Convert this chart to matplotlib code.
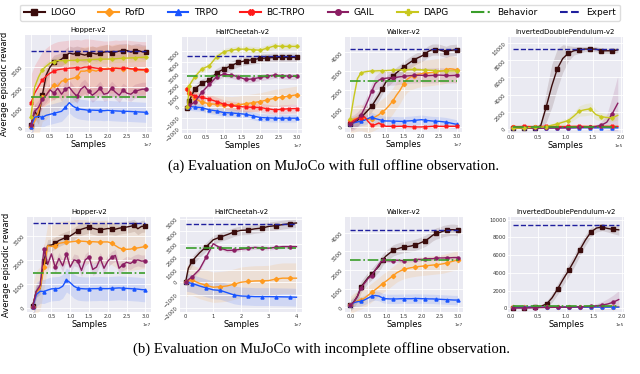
import numpy as np
import matplotlib
matplotlib.use("Agg")
import matplotlib.pyplot as plt
from matplotlib.lines import Line2D

plt.rcParams.update({
    "font.family": "DejaVu Sans",
    "axes.facecolor": "#EAEAF2",
    "axes.edgecolor": "white",
    "axes.grid": True,
    "grid.color": "white",
    "grid.linewidth": 0.6,
    "xtick.major.size": 0,
    "ytick.major.size": 0,
    "xtick.major.pad": 1.5,
    "ytick.major.pad": 1.0,
    "xtick.color": "#333333",
    "ytick.color": "#333333",
})

names = ["LOGO", "PofD", "TRPO", "BC-TRPO", "GAIL", "DAPG"]
colors = {"LOGO": "#3a0c0c", "PofD": "#ff9a1f", "TRPO": "#1a55ff",
          "BC-TRPO": "#ff1a1a", "GAIL": "#8b1e63", "DAPG": "#c8c81e"}
markers = {"LOGO": "s", "PofD": "D", "TRPO": "^", "BC-TRPO": "X",
           "GAIL": "o", "DAPG": "P"}
behavior_color = "#3a9e2a"
expert_color = "#1f1f9e"

# ---------------- (a) full offline observation ----------------
# Hopper-v2 (x in 1e7 samples)
hop_a_x = [0, .1, .2, .3, .4, .5, .6, .7, .8, .9, 1.0, 1.1, 1.2, 1.3, 1.4, 1.5,
           1.6, 1.7, 1.8, 1.9, 2.0, 2.1, 2.2, 2.3, 2.4, 2.5, 2.6, 2.7, 2.8, 2.9, 3.0]
hop_a = {
    "LOGO": [100, 800, 500, 1600, 2600, 3000, 3250, 3300, 3400, 3550, 3700, 3650, 3700, 3650, 3600, 3650,
             3700, 3650, 3700, 3750, 3780, 3700, 3750, 3800, 3820, 3830, 3750, 3800, 3820, 3760, 3750],
    "PofD": [0, 300, 800, 1500, 1600, 1900, 2100, 2050, 2300, 2350, 2400, 2450, 2500, 2800, 2800, 2850,
             2850, 2800, 2900, 2900, 2950, 2900, 2950, 2950, 2900, 2950, 2900, 2900, 2850, 2850, 2850],
    "TRPO": [0, 500, 550, 500, 600, 650, 700, 750, 800, 1000, 1230, 1050, 950, 900, 880, 850,
             860, 850, 850, 830, 850, 830, 820, 810, 800, 800, 790, 780, 770, 760, 750],
    "BC-TRPO": [1200, 1700, 2030, 2370, 2550, 2700, 2800, 2870, 2900, 2920, 2950, 2960, 2980, 2950, 3000, 3000,
                2980, 2950, 2930, 2900, 2900, 2920, 2950, 2930, 2950, 2950, 2920, 2900, 2880, 2870, 2870],
    "GAIL": [100, 800, 1000, 1400, 1600, 1870, 1700, 1950, 1650, 1900, 2000, 1750, 1550, 1900, 2050, 1800,
             1600, 1750, 1950, 1650, 1700, 1950, 1750, 1600, 1850, 1700, 1650, 1800, 1850, 1900, 1900],
    "DAPG": [500, 2000, 2500, 2870, 3050, 3200, 3280, 3330, 3320, 3330, 3330, 3340, 3350, 3350, 3360, 3370,
             3380, 3390, 3400, 3400, 3400, 3410, 3420, 3430, 3440, 3450, 3460, 3470, 3480, 3490, 3500],
}
hop_a_sd = {"LOGO": 350, "PofD": 1200, "TRPO": 500, "BC-TRPO": 1400, "GAIL": 350, "DAPG": 200}

# HalfCheetah-v2
hc_a_x = [0, 0.05, 0.2, 0.4, 0.6, 0.8, 1.0, 1.2, 1.4, 1.6, 1.8, 2.0, 2.2, 2.4, 2.6, 2.8, 3.0]
hc_a = {
    "LOGO": [-100, 500, 1600, 2100, 2400, 3050, 3400, 3700, 4000, 4150, 4250, 4360, 4400, 4450, 4450, 4450, 4450],
    "PofD": [1580, 1200, 700, 400, 250, 200, 150, 100, 150, 250, 350, 450, 600, 760, 850, 950, 1060],
    "TRPO": [0, 0, -50, -100, -300, -400, -550, -580, -640, -700, -850, -1000, -1030, -1060, -1060, -1060, -1060],
    "BC-TRPO": [1580, 1200, 950, 820, 670, 450, 210, 100, 0, -50, -70, -90, -200, -300, -250, -200, -180],
    "GAIL": [0, 100, 400, 1300, 2000, 2700, 2940, 2850, 2700, 2450, 2500, 2640, 2750, 2850, 2800, 2750, 2730],
    "DAPG": [0, 1900, 2700, 3400, 3700, 4500, 4970, 5100, 5200, 5200, 5150, 5100, 5300, 5500, 5450, 5450, 5450],
}
hc_a_sd = {"LOGO": 400, "PofD": 800, "TRPO": 350, "BC-TRPO": 400, "GAIL": 300, "DAPG": 300}

# Walker-v2
wk_a_x = hop_a_x
wk_a = {
    "LOGO": [180, 250, 350, 540, 700, 900, 1100, 1400, 1700, 2050, 2400, 2550, 2710, 2900, 3050, 3200,
             3350, 3480, 3600, 3700, 3790, 3900, 4050, 4140, 4150, 4140, 4080, 4020, 4100, 4120, 4140],
    "PofD": [360, 420, 480, 500, 450, 390, 450, 540, 650, 800, 950, 1160, 1400, 1700, 1960, 2300,
             2550, 2680, 2750, 2820, 2850, 2880, 2900, 2920, 2950, 2970, 3000, 3050, 3120, 3100, 3040],
    "TRPO": [180, 220, 270, 320, 360, 450, 540, 450, 400, 350, 320, 320, 310, 310, 300, 300,
             320, 330, 350, 370, 390, 370, 340, 320, 310, 300, 280, 260, 220, 180, 140],
    "BC-TRPO": [250, 350, 450, 500, 540, 300, 90, 120, 210, 120, 36, 36, 30, 30, 36, 36,
                20, 10, 0, 0, 0, 10, 20, 30, 36, 36, 30, 30, 36, 36, 36],
    "GAIL": [180, 250, 400, 625, 1000, 1430, 1900, 2320, 2500, 2590, 2610, 2630, 2640, 2660, 2690, 2710,
             2730, 2750, 2760, 2770, 2770, 2760, 2750, 2760, 2770, 2780, 2770, 2760, 2750, 2760, 2770],
    "DAPG": [450, 1600, 2590, 2900, 2950, 2980, 3000, 3000, 3010, 3010, 3020, 3030, 3040, 3050, 3060, 3070,
             3070, 3080, 3080, 3070, 3060, 3050, 3040, 3030, 3020, 3010, 3000, 3000, 3000, 3000, 3000],
}
wk_a_sd = {"LOGO": 300, "PofD": 700, "TRPO": 250, "BC-TRPO": 80, "GAIL": 400, "DAPG": 100}

# InvertedDoublePendulum-v2 (x in 1e5 samples)
idp_a_x = [0.05, 0.15, 0.25, 0.35, 0.45, 0.55, 0.65, 0.75, 0.85, 0.95,
           1.05, 1.15, 1.25, 1.35, 1.45, 1.55, 1.65, 1.75, 1.85, 1.95]
idp_a = {
    "LOGO": [100, 100, 100, 100, 120, 400, 2600, 5000, 7000, 8200, 8800, 9100, 9200, 9300, 9300, 9300, 9100, 9100, 9100, 9200],
    "PofD": [280, 280, 290, 290, 280, 280, 290, 300, 300, 290, 290, 300, 300, 310, 300, 300, 310, 310, 300, 300],
    "TRPO": [150, 150, 150, 160, 160, 150, 150, 160, 160, 170, 160, 160, 170, 170, 160, 160, 170, 170, 160, 160],
    "BC-TRPO": [300, 300, 310, 300, 300, 310, 320, 310, 300, 300, 310, 320, 320, 310, 300, 310, 320, 320, 310, 310],
    "GAIL": [100, 100, 100, 100, 100, 110, 120, 130, 140, 150, 160, 180, 200, 220, 250, 300, 450, 800, 1800, 3000],
    "DAPG": [100, 120, 150, 180, 200, 220, 300, 450, 600, 800, 1000, 1500, 2100, 2250, 2360, 1700, 1450, 1350, 1300, 1600],
}
idp_a_sd = {"LOGO": [50, 50, 50, 50, 100, 400, 1800, 2500, 2300, 1600, 900, 500, 400, 300, 300, 300, 300, 300, 300, 300],
            "PofD": 50, "TRPO": 50, "BC-TRPO": 50,
            "GAIL": [50, 50, 50, 50, 50, 50, 50, 50, 50, 50, 50, 60, 80, 100, 150, 200, 400, 900, 2000, 3200],
            "DAPG": [50, 50, 50, 60, 80, 100, 150, 200, 250, 300, 350, 450, 600, 700, 700, 600, 500, 450, 450, 500]}

# ---------------- (b) incomplete offline observation ----------------
hop_b_x = hop_a_x
hop_b = {
    "LOGO": [90, 690, 810, 1940, 2600, 2620, 2700, 2810, 2880, 2940, 3000, 3100, 3210, 3280, 3330, 3370,
             3320, 3280, 3250, 3280, 3310, 3300, 3280, 3320, 3350, 3370, 3400, 3440, 3300, 3400, 3410],
    "PofD": [50, 650, 810, 1690, 2590, 2560, 2600, 2690, 2720, 2740, 2750, 2770, 2790, 2780, 2770, 2750,
             2760, 2750, 2740, 2750, 2750, 2700, 2600, 2500, 2450, 2440, 2450, 2480, 2500, 2530, 2560],
    "TRPO": [40, 560, 690, 680, 740, 790, 800, 810, 900, 1160, 1050, 900, 820, 800, 790, 790,
             800, 800, 810, 800, 800, 810, 820, 830, 820, 810, 800, 790, 780, 760, 750],
    "GAIL": [50, 700, 940, 2440, 1810, 2250, 1690, 2060, 1750, 2250, 1700, 2000, 1950, 1560, 2000, 2125,
             1600, 1700, 2060, 1650, 1950, 2100, 2190, 1650, 1800, 1900, 1850, 1950, 2000, 1950, 1960],
}
hop_b_sd = {"LOGO": 250, "PofD": 900, "TRPO": 500, "GAIL": 250}

hc_b_x = [0, 0.1, 0.25, 0.5, 0.75, 1.0, 1.25, 1.5, 1.75, 2.0, 2.25, 2.5, 2.75, 3.0, 3.25, 3.5, 3.75, 4.0]
hc_b = {
    "LOGO": [0, 1100, 1700, 2300, 2800, 3340, 3550, 3740, 3950, 4080, 4100, 4200, 4260, 4390, 4450, 4530, 4600, 4660],
    "PofD": [0, 180, 150, -80, -250, -390, -350, -290, -150, 0, 60, 100, 110, 130, 250, 320, 320, 320],
    "TRPO": [0, -30, -100, -290, -450, -600, -640, -820, -1000, -1080, -1100, -1130, -1130, -1130, -1140, -1150, -1160, -1180],
    "GAIL": [0, 200, 450, 1000, 2000, 3030, 2700, 2500, 2520, 2600, 2660, 2740, 2700, 2680, 2740, 2800, 2800, 2800],
}
hc_b_sd = {"LOGO": 350, "PofD": 1200, "TRPO": 700, "GAIL": 150}

wk_b_x = hop_a_x
wk_b = {
    "LOGO": [100, 300, 600, 1100, 1350, 1600, 1780, 2000, 2200, 2540, 2750, 2900, 3050, 3120, 3180, 3220,
             3250, 3280, 3340, 3400, 3480, 3560, 3700, 3850, 3950, 4000, 4080, 4120, 4150, 4150, 4120],
    "PofD": [100, 250, 350, 400, 500, 650, 800, 950, 1100, 1270, 1400, 1550, 1700, 1850, 1950, 2030,
             2080, 2120, 2150, 2180, 2200, 2220, 2240, 2260, 2280, 2300, 2330, 2380, 2430, 2480, 2540],
    "TRPO": [100, 250, 300, 320, 400, 500, 600, 630, 600, 500, 460, 450, 450, 450, 460, 460,
             460, 460, 470, 470, 460, 460, 450, 450, 440, 430, 420, 410, 400, 390, 390],
    "GAIL": [100, 300, 600, 1050, 1300, 1550, 1700, 2000, 2300, 2540, 2500, 2480, 2500, 2520, 2500, 2500,
             2520, 2530, 2540, 2560, 2560, 2580, 2600, 2600, 2620, 2640, 2640, 2650, 2650, 2660, 2660],
}
wk_b_sd = {"LOGO": 300, "PofD": 500, "TRPO": 250, "GAIL": 100}

idp_b_x = idp_a_x
idp_b = {
    "LOGO": [100, 100, 100, 100, 150, 250, 500, 1200, 2200, 3300, 4300, 5400, 6600, 7700, 8600, 9050, 9150, 9000, 8900, 8850],
    "PofD": [200, 200, 210, 200, 200, 210, 200, 200, 210, 200, 200, 210, 200, 200, 210, 200, 200, 210, 200, 200],
    "TRPO": [150, 150, 150, 160, 150, 150, 160, 150, 150, 160, 150, 150, 160, 150, 150, 160, 150, 150, 160, 150],
    "GAIL": [50, 50, 60, 70, 80, 100, 110, 120, 130, 140, 150, 160, 180, 200, 250, 300, 380, 500, 700, 1000],
}
idp_b_sd = {"LOGO": [50, 50, 50, 50, 80, 150, 300, 500, 600, 650, 700, 700, 650, 600, 500, 450, 400, 400, 500, 600],
            "PofD": 40, "TRPO": 40,
            "GAIL": [30, 30, 30, 30, 30, 40, 40, 40, 50, 50, 60, 60, 80, 100, 150, 250, 400, 600, 800, 1000]}

panels = [
    # title, x, curves, spreads, behavior, expert, xscale, ylim, yticks, rotate, box (l, r, t, b) px
    ("Hopper-v2", hop_a_x, hop_a, hop_a_sd, 1500, 3800, 1e7, (-230, 4600), [0, 1000, 2000, 3000], True, (25, 152, 35, 132)),
    ("HalfCheetah-v2", hc_a_x, hc_a, hc_a_sd, 2800, 4550, 1e7, (-2400, 6300),
     [-2000, -1000, 0, 1000, 2000, 3000, 4000, 5000], True, (182, 302, 37, 133)),
    ("Walker-v2", wk_a_x, wk_a, wk_a_sd, 2470, 4160, 1e7, (-270, 4820), [0, 1000, 2000, 3000, 4000], True, (345, 462, 37, 132)),
    ("InvertedDoublePendulum-v2", idp_a_x, idp_a, idp_a_sd, 300, 9300, 1e5, (-450, 10700),
     [0, 2000, 4000, 6000, 8000, 10000], True, (508, 623, 37, 133)),
    ("Hopper-v2", hop_b_x, hop_b, hop_b_sd, 1460, 3560, 1e7, (-175, 3790), [0, 1000, 2000, 3000], True, (27, 151, 217, 312)),
    ("HalfCheetah-v2", hc_b_x, hc_b, hc_b_sd, 2680, 4580, 1e7, (-2340, 5130),
     [-2000, -1000, 0, 1000, 2000, 3000, 4000, 5000], True, (180, 302, 217, 312)),
    ("Walker-v2", wk_b_x, wk_b, wk_b_sd, 2540, 4120, 1e7, (-250, 4830), [0, 1000, 2000, 3000, 4000], True, (345, 463, 217, 312)),
    ("InvertedDoublePendulum-v2", idp_b_x, idp_b, idp_b_sd, 300, 9380, 1e5, (-400, 10290),
     [0, 2000, 4000, 6000, 8000, 10000], False, (508, 624, 217, 312)),
]

W, H = 640, 374
fig = plt.figure(figsize=(6.4, 3.74), dpi=100)

for i, (title, xs, curves, sds, beh, exp, xscale, ylim, yticks, rot, box) in enumerate(panels):
    l, r, t, b = box
    ax = fig.add_axes([l / W, 1 - b / H, (r - l) / W, (b - t) / H])
    x = np.array(xs) * xscale
    for name in names:
        if name not in curves:
            continue
        y = np.array(curves[name], dtype=float)
        sd = np.broadcast_to(np.array(sds[name], dtype=float), y.shape)
        c = colors[name]
        ax.fill_between(x, y - sd, y + sd, color=c, alpha=0.13, lw=0)
        ax.plot(x, y, color=c, lw=1.0, marker=markers[name], ms=2.2,
                markevery=max(1, len(x) // 9), zorder=3)
    ax.plot([x[0], x[-1]], [beh, beh], color=behavior_color, lw=1.2, ls="-.", zorder=4)
    ax.plot([x[0], x[-1]], [exp, exp], color=expert_color, lw=1.0, ls="--", zorder=4)
    ax.set_ylim(*ylim)
    ax.set_yticks(yticks)
    ax.set_title(title, fontsize=5, pad=2)
    ax.set_xlabel("Samples", fontsize=6, labelpad=0.5)
    ax.tick_params(labelsize=3.8)
    if rot:
        for lab in ax.get_yticklabels():
            lab.set_rotation(45)
    ax.ticklabel_format(axis="x", style="sci", scilimits=(0, 0))
    ax.xaxis.get_offset_text().set_fontsize(3.2)
    if i in (0, 4):
        ax.set_ylabel("Average episodic reward", fontsize=6, labelpad=1)
    for s in ax.spines.values():
        s.set_visible(False)

handles = [Line2D([], [], color=colors[n], marker=markers[n], ms=4, lw=1.5) for n in names]
handles += [Line2D([], [], color=behavior_color, ls="-.", lw=1.5),
            Line2D([], [], color=expert_color, ls="--", lw=1.5)]
labels = names + ["Behavior", "Expert"]
fig.legend(handles, labels, loc="upper center", bbox_to_anchor=(0.5, 1.0), ncol=8,
           fontsize=6.5, frameon=True, facecolor="white", edgecolor="#dddddd", framealpha=1,
           handlelength=2.3, handletextpad=0.6, columnspacing=2.5, borderpad=0.4, fancybox=True)

fig.text(0.521, 1 - 166 / H, "(a) Evaluation on MuJoCo with full offline observation.",
         ha="center", va="center", fontsize=10.6, family="Liberation Serif")
fig.text(0.503, 1 - 349 / H, "(b) Evaluation on MuJoCo with incomplete offline observation.",
         ha="center", va="center", fontsize=10.6, family="Liberation Serif")

fig.savefig("out.png", dpi=100)
